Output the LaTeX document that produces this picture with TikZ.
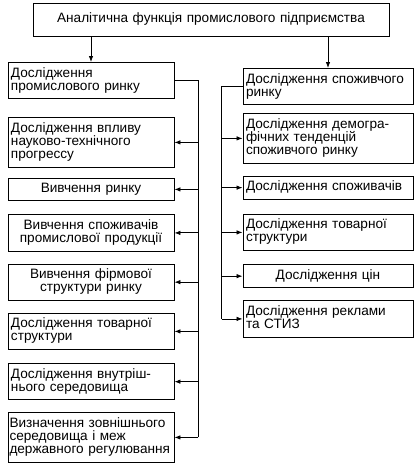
\documentclass[tikz,border=0pt]{standalone}
\usepackage{fontspec}
\setmainfont{Liberation Sans}
\usetikzlibrary{arrows.meta, positioning}
\newcommand{\boxfont}{\fontsize{13.6}{13}\selectfont\lineskiplimit=-4pt}

\begin{document}
\begin{tikzpicture}[x=1pt, y=1pt, node distance=12pt,
  lbox/.style={rectangle, draw, line width=0.9pt, text width=160pt, inner xsep=3pt, inner ysep=4.8pt, align=left, font=\boxfont, execute at begin node=\strut, execute at end node=\strut},
  rbox/.style={lbox, text width=164pt},
  conn/.style={line width=0.8pt},
  arr/.style={-{Latex[length=6pt, width=4.5pt]}, line width=0.8pt}
]
\useasboundingbox (0,0) rectangle (417,-467);
\node[lbox, text width=350pt, align=center, inner ysep=9.8pt] (top) at (211,-20) {Аналітична функція промислового підприємства};
% left column
\node[lbox, anchor=north] (prom) at (91,-62) {Дослідження\\промислового ринку};
\node[lbox, below=18pt of prom] (ntp) {Дослідження впливу\\науково-технічного\\прогрессу};
\node[lbox, align=center, below=10pt of ntp] (vrynku) {Вивчення ринку};
\node[lbox, align=center, below=13pt of vrynku] (vspoz) {Вивчення споживачів\\промислової продукції};
\node[lbox, align=center, below=12pt of vspoz] (firm) {Вивчення фірмової\\структури ринку};
\node[lbox, below=12pt of firm] (ltov) {Дослідження товарної\\структури};
\node[lbox, below=13pt of ltov] (vnutr) {Дослідження внутріш-\\нього середовища};
\node[lbox, inner xsep=1.5pt, text width=163pt, below=12pt of vnutr] (zovn) {Визначення зовнішнього\\середовища і меж\\\mbox{державного регулювання}};
% right column
\node[rbox, anchor=north] (spoz) at (328,-68) {Дослідження споживчого\\ринку};
\node[rbox, below=8pt of spoz] (demo) {Дослідження демогра-\\фічних тенденцій\\споживчого ринку};
\node[rbox, below=12pt of demo] (rspoz) {Дослідження споживачів};
\node[rbox, below=14pt of rspoz] (rtov) {Дослідження товарної\\структури};
\node[rbox, align=center, below=13pt of rtov] (cin) {Дослідження цін};
\node[rbox, below=12pt of cin] (rekl) {Дослідження реклами\\та СТИЗ};
% connectors
\draw[arr] (top.south -| prom.north) -- (prom.north);
\draw[arr] (top.south -| spoz.north) -- (spoz.north);
\coordinate[right=24pt of prom.east] (lbus);
\coordinate[left=21pt of spoz.west] (rbus);
\draw[conn] (prom.east) -- (lbus) -- (lbus |- zovn.east);
\draw[conn] (spoz.west) -- (rbus) -- (rbus |- rekl.west);
\foreach \n in {ntp, vrynku, vspoz, firm, ltov, vnutr, zovn}
  \draw[arr] (lbus |- \n.east) -- (\n.east);
\foreach \n in {demo, rspoz, rtov, cin, rekl}
  \draw[arr] (rbus |- \n.west) -- (\n.west);
\end{tikzpicture}
\end{document}
